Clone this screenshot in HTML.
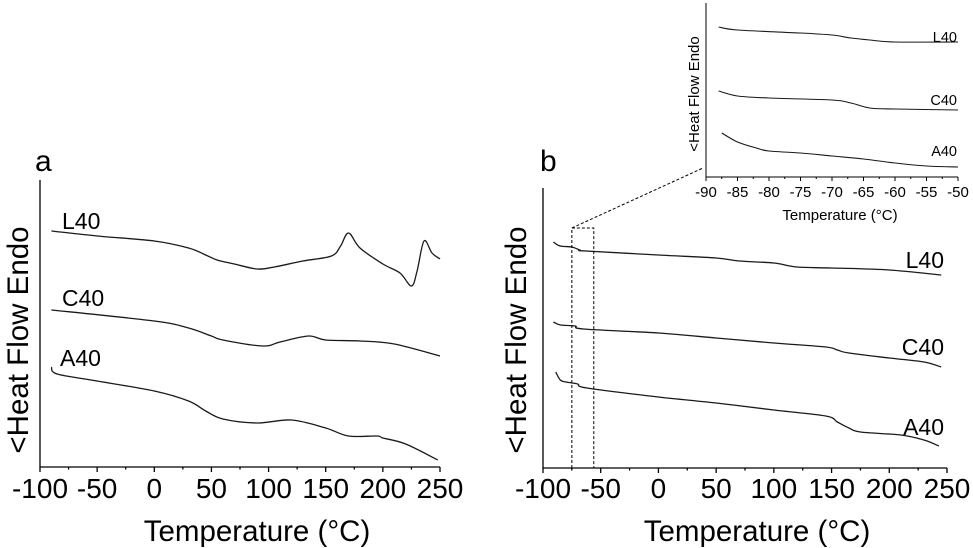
<!DOCTYPE html>
<html><head><meta charset="utf-8"><style>
html,body{margin:0;padding:0;background:#fff}
svg{display:block;font-family:"Liberation Sans",Arial,sans-serif}
</style></head><body>
<svg id="chart" width="973" height="548" viewBox="0 0 973 548"></svg>
<script>
// ---- data ----
const tempTicks = [-100,-50,0,50,100,150,200,250];
const insetTicks = [-90,-85,-80,-75,-70,-65,-60,-55,-50];
const aL40x = [-90,-50,0,30,45,55,70,90,105,130,155,163,170,180,200,215,225,230,236,243,250];
const aL40y = [236,231,226,219,212,207,203,198,200,206,211,221,234,219,203,194,181,196,226,214,208];
const aC40x = [-90,0,30,50,60,95,110,135,150,180,210,250];
const aC40y = [157,146,139,131,127,121,125,131,127,126,123,111];
const aA40x = [-90,-85,-50,0,30,45,60,90,120,150,170,195,200,220,248];
const aA40y = [100,93,86,76,66,56,48,44,47,39,31,31,29,23,7];
const bL40x = [-91,-85,-75,-68,-63,0,50,70,100,120,150,200,245];
const bL40y = [226,222,221,218,217,213,210,207,205,201,200,198,193];
const bC40x = [-91,-85,-72,-65,0,50,100,145,155,165,200,230,245];
const bC40y = [146,143,142,139,135,130,125,121,118,115,110,106,101];
const bA40x = [-89,-85,-80,-70,-62,0,50,100,145,155,165,175,210,230,243];
const bA40y = [96,88,86,84,80,71,65,58,52,46,40,36,33,28,22];
const iL40x = [-88,-85,-75,-70,-67,-64,-60,-50];
const iL40y = [150,147,144,142,139,137,135,135];
const iC40x = [-88,-85,-80,-70,-67,-64,-60,-50];
const iC40y = [86,81,79,77,74,69,68,67];
const iA40x = [-87.5,-85,-82,-80,-75,-70,-65,-60,-55,-50];
const iA40y = [44,35,29,26,24,21,18,14,11,10];

const NS="http://www.w3.org/2000/svg";
const svg=document.getElementById('chart');
function mk(tag,attrs,parent){const e=document.createElementNS(NS,tag);for(const k in attrs)e.setAttribute(k,attrs[k]);(parent||svg).appendChild(e);return e;}
function lin(d0,d1,r0,r1){return v=>r0+(v-d0)*(r1-r0)/(d1-d0);}
function smoothPath(pts){
  let d='M'+pts[0][0].toFixed(1)+','+pts[0][1].toFixed(1);
  for(let i=0;i<pts.length-1;i++){
    const p0=pts[i-1]||pts[i],p1=pts[i],p2=pts[i+1],p3=pts[i+2]||p2;
    const c1=[p1[0]+(p2[0]-p0[0])/6,p1[1]+(p2[1]-p0[1])/6];
    const c2=[p2[0]-(p3[0]-p1[0])/6,p2[1]-(p3[1]-p1[1])/6];
    d+=' C'+c1[0].toFixed(1)+','+c1[1].toFixed(1)+' '+c2[0].toFixed(1)+','+c2[1].toFixed(1)+' '+p2[0].toFixed(1)+','+p2[1].toFixed(1);
  }
  return d;
}
function panel(cfg){
  const g=mk('g',{});
  
  
  const xs=lin(cfg.xd[0],cfg.xd[1],cfg.x0,cfg.x1);
  const ys=v=>cfg.yb-v;
  const ax=mk('path',{d:`M${cfg.x0},${cfg.yt} L${cfg.x0},${cfg.yb} L${cfg.x1},${cfg.yb}`,fill:'none',stroke:'#000','stroke-width':cfg.sw},g);
  
  
  const ticks=cfg.ticks;
  for(let i=0;i<ticks.length;i++){
    const x=xs(ticks[i]);
    mk('line',{x1:x,y1:cfg.yb,x2:x,y2:cfg.yb+cfg.tl,stroke:'#000','stroke-width':cfg.sw},g);
    if(i<ticks.length-1){const xm=xs((ticks[i]+ticks[i+1])/2);mk('line',{x1:xm,y1:cfg.yb,x2:xm,y2:cfg.yb+cfg.tl/2,stroke:'#000','stroke-width':cfg.sw},g);}
    const t=mk('text',{x:x,y:cfg.tickY,'font-size':cfg.fs,'text-anchor':'middle'},g);
    t.textContent=ticks[i];
    
    
  }
  const xt=mk('text',{x:cfg.titleX,y:cfg.titleY,'font-size':cfg.tfs,'text-anchor':'middle'},g);
  xt.textContent='Temperature (°C)';
  
  
  const yt=mk('text',{x:0,y:0,'font-size':cfg.tfs,'text-anchor':'middle',transform:`translate(${cfg.ylx},${cfg.yly}) rotate(-90)`},g);
  yt.textContent='<Heat Flow Endo';
  
  
  cfg.series.forEach(s=>{
    const pts=s.x.map((v,i)=>[xs(v),ys(s.y[i])]);
    const p=mk('path',{d:smoothPath(pts),fill:'none',stroke:'#1a1a1a','stroke-width':cfg.lw},g);
    
    
    const l=mk('text',{x:s.lx,y:s.ly,'font-size':cfg.lfs,'text-anchor':s.anchor},g);
    l.textContent=s.n;
    
    
  });
  return {xs,ys};
}
panel({name:'panel-a',xd:[-100,250],x0:40,x1:440,yt:180,yb:467,sw:1.3,tl:5,tickY:498,fs:28,tfs:29.5,lw:1.3,titleX:257,titleY:541,ylx:28,yly:340,lfs:23,
  ticks:tempTicks,series:[
   {n:'L40',x:aL40x,y:aL40y,lx:62,ly:229,anchor:'start'},
   {n:'C40',x:aC40x,y:aC40y,lx:62,ly:306,anchor:'start'},
   {n:'A40',x:aA40x,y:aA40y,lx:60,ly:366,anchor:'start'}]});
const pb=panel({name:'panel-b',xd:[-100,250],x0:543,x1:947,yt:188,yb:468,sw:1.3,tl:5,tickY:498,fs:28,tfs:29.5,lw:1.3,titleX:757,titleY:541,ylx:526,yly:340,lfs:23,
  ticks:tempTicks,series:[
   {n:'L40',x:bL40x,y:bL40y,lx:944,ly:268,anchor:'end'},
   {n:'C40',x:bC40x,y:bC40y,lx:944,ly:355,anchor:'end'},
   {n:'A40',x:bA40x,y:bA40y,lx:944,ly:435,anchor:'end'}]});
panel({name:'inset-panel',xd:[-90,-50],x0:706,x1:958,yt:3,yb:177,sw:1,tl:4,tickY:197,fs:15,tfs:15,lw:1.1,titleX:840,titleY:220,ylx:699,yly:94,lfs:14.5,
  ticks:insetTicks,series:[
   {n:'L40',x:iL40x,y:iL40y,lx:957,ly:42,anchor:'end'},
   {n:'C40',x:iC40x,y:iC40y,lx:957,ly:105,anchor:'end'},
   {n:'A40',x:iA40x,y:iA40y,lx:957,ly:156,anchor:'end'}]});
// zoom box
const bx0=pb.xs(-75),bx1=pb.xs(-56);
const box=mk('path',{d:`M${bx0},468 L${bx0},228 L${bx1},228 L${bx1},468 M${bx0},228 L703,168`,fill:'none',stroke:'#000','stroke-width':1,'stroke-dasharray':'3,2'});


const la=mk('text',{x:35,y:171,'font-size':30});la.textContent='a';


const lb=mk('text',{x:540,y:171,'font-size':30});lb.textContent='b';


</script>
</body></html>
